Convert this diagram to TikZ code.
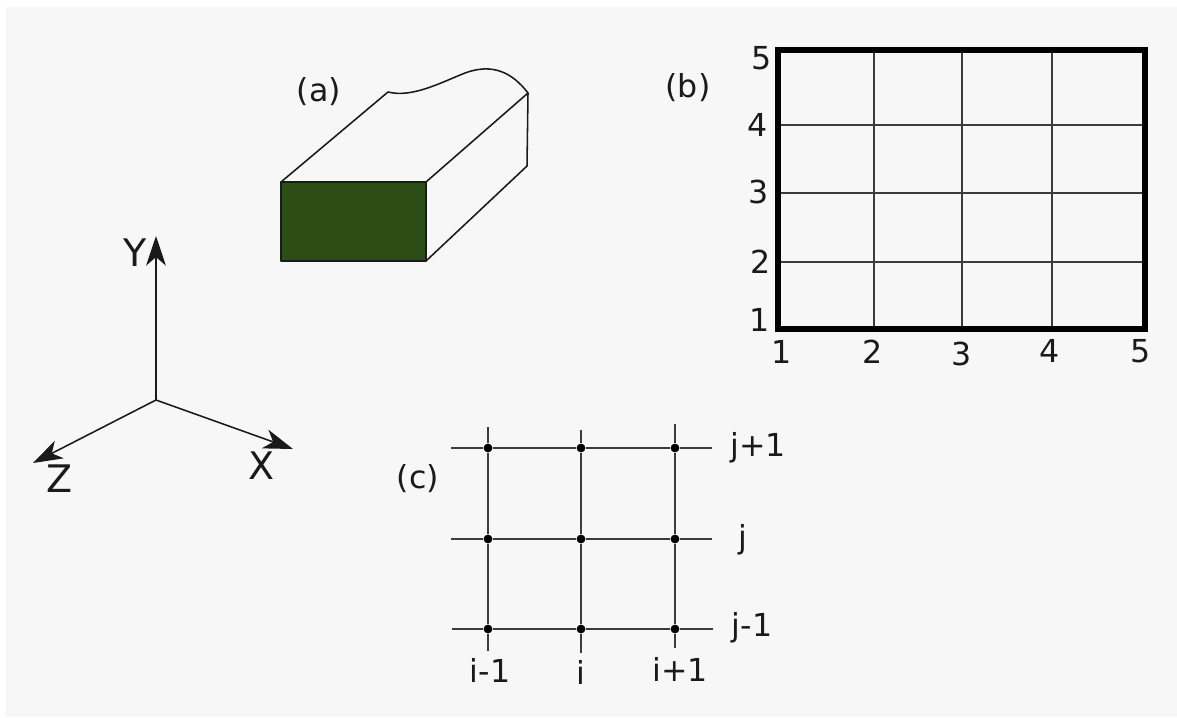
\documentclass[tikz,border=0pt]{standalone}
\usepackage{fontspec}
\usepackage{xcolor}
\setmainfont{DejaVu Sans}
\usetikzlibrary{arrows.meta, positioning}
\definecolor{pagegray}{HTML}{F7F7F7}
\definecolor{facegreen}{HTML}{2D4D16}
\definecolor{inkgray}{HTML}{1A1A1A}

\begin{document}
\begin{tikzpicture}[x=0.025cm, y=-0.025cm,
    tag/.style={inner sep=0pt, text=inkgray, font=\fontsize{22.5}{26}\selectfont},
    axistag/.style={inner sep=0pt, text=inkgray, font=\fontsize{27}{31}\selectfont},
    gridline/.style={draw=inkgray!85, line width=1.1pt},
    frameline/.style={draw=black, line width=3.8pt},
    blockline/.style={draw=inkgray, line width=1.1pt, line join=round},
    axisline/.style={draw=inkgray, line width=1.1pt, -{Stealth[length=21pt, width=14pt, inset=6pt]}},
    gridpoint/.style={circle, fill=black, inner sep=0pt, minimum size=0.22cm}]

    \useasboundingbox (0,0) rectangle (1177,717);
    \fill [pagegray] (6,7) rectangle (1177,717);

    % Axes
    \coordinate (origin) at (156,400);
    \coordinate (ytip) at (156,236);
    \coordinate (xtip) at (293,449);
    \coordinate (ztip) at (33,463);
    \draw [axisline] (origin) -- (ytip);
    \draw [axisline] (origin) -- (xtip);
    \draw [axisline] (origin) -- (ztip);
    \node [axistag] at (135,253) (ylabel) {Y};
    \node [axistag] at (262,466) (xlabel) {X};
    \node [axistag] at (60,479) (zlabel) {Z};

    % Block (a)
    \coordinate (frontnw) at (281,182);
    \coordinate (frontne) at (426,182);
    \coordinate (frontse) at (426,261);
    \coordinate (frontsw) at (281,261);
    \coordinate (backnw) at (388,92);
    \coordinate (backne) at (528,93);
    \coordinate (backse) at (527,166);
    \fill [facegreen] (frontnw) rectangle (frontse);
    \draw [blockline] (frontnw) -- (frontne) -- (frontse) -- (frontsw) -- cycle;
    \draw [blockline] (frontnw) -- (backnw) .. controls (412,98) and (440,83) .. (465,73) .. controls (492,63) and (512,72) .. (backne) -- (backse) -- (frontse);
    \draw [blockline] (frontne) -- (backne);
    \node [tag] at (319,92) (alabel) {(a)};

    % Grid (b)
    \coordinate (bnw) at (778,50);
    \coordinate (bse) at (1145,329);
    \coordinate (v2top) at (874,50);
    \coordinate (v2bot) at (874,329);
    \coordinate (v3top) at (962,50);
    \coordinate (v3bot) at (962,329);
    \coordinate (v4top) at (1052,50);
    \coordinate (v4bot) at (1052,329);
    \coordinate (h4left) at (778,125);
    \coordinate (h4right) at (1145,125);
    \coordinate (h3left) at (778,193);
    \coordinate (h3right) at (1145,193);
    \coordinate (h2left) at (778,262);
    \coordinate (h2right) at (1145,262);
    \draw [gridline] (v2top) -- (v2bot);
    \draw [gridline] (v3top) -- (v3bot);
    \draw [gridline] (v4top) -- (v4bot);
    \draw [gridline] (h4left) -- (h4right);
    \draw [gridline] (h3left) -- (h3right);
    \draw [gridline] (h2left) -- (h2right);
    \draw [frameline] (bnw) rectangle (bse);
    \node [tag] at (688,88) (blabel) {(b)};
    \node [tag] at (762,58) (row5) {5};
    \node [tag] at (758,125) (row4) {4};
    \node [tag] at (759,192) (row3) {3};
    \node [tag] at (761,262) (row2) {2};
    \node [tag] at (760,320) (row1) {1};
    \node [tag] at (782,352) (col1) {1};
    \node [tag] at (873,352) (col2) {2};
    \node [tag] at (962,354) (col3) {3};
    \node [tag] at (1050,351) (col4) {4};
    \node [tag] at (1141,351) (col5) {5};

    % Stencil (c)
    \node [gridpoint] at (488,448) (p11) {};
    \node [gridpoint] at (581,448) (p21) {};
    \node [gridpoint] at (675,448) (p31) {};
    \node [gridpoint] at (488,539) (p12) {};
    \node [gridpoint] at (581,539) (p22) {};
    \node [gridpoint] at (675,539) (p32) {};
    \node [gridpoint] at (488,629) (p13) {};
    \node [gridpoint] at (581,629) (p23) {};
    \node [gridpoint] at (675,629) (p33) {};
    \coordinate (iminustop) at (488,427);
    \coordinate (iminusbot) at (488,651);
    \coordinate (imidtop) at (581,430);
    \coordinate (imidbot) at (581,653);
    \coordinate (iplustop) at (675,424);
    \coordinate (iplusbot) at (675,648);
    \coordinate (jplusleft) at (451,448);
    \coordinate (jplusright) at (712,448);
    \coordinate (jmidleft) at (451,539);
    \coordinate (jmidright) at (712,539);
    \coordinate (jminusleft) at (452,629);
    \coordinate (jminusright) at (713,629);
    \draw [gridline] (iminustop) -- (p11) -- (p12) -- (p13) -- (iminusbot);
    \draw [gridline] (imidtop) -- (p21) -- (p22) -- (p23) -- (imidbot);
    \draw [gridline] (iplustop) -- (p31) -- (p32) -- (p33) -- (iplusbot);
    \draw [gridline] (jplusleft) -- (p11) -- (p21) -- (p31) -- (jplusright);
    \draw [gridline] (jmidleft) -- (p12) -- (p22) -- (p32) -- (jmidright);
    \draw [gridline] (jminusleft) -- (p13) -- (p23) -- (p33) -- (jminusright);
    \node [tag] at (418,479) (clabel) {(c)};
    \node [tag] at (758,448) (jplus) {j+1};
    \node [tag] at (743,540) (jmid) {j};
    \node [tag] at (752,628) (jminus) {j-1};
    \node [tag] at (490,670) (iminus) {i-1};
    \node [tag] at (581,672) (imid) {i};
    \node [tag] at (680,669) (iplus) {i+1};

\end{tikzpicture}
\end{document}
